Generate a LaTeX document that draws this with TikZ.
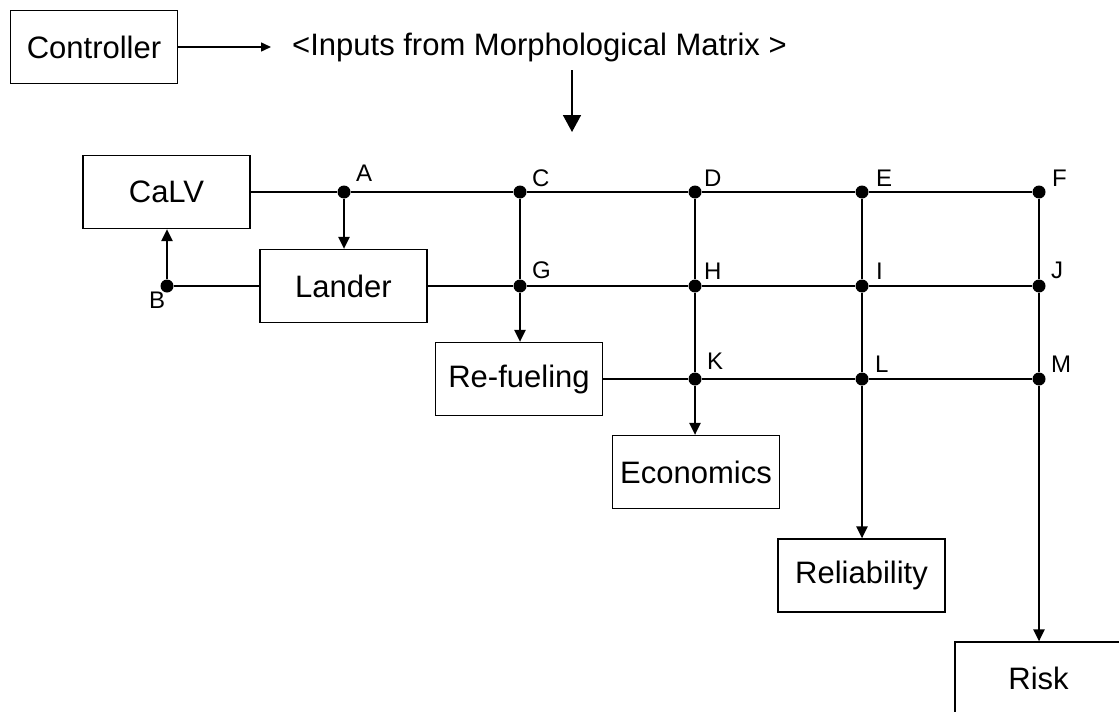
\documentclass[tikz,border=0pt]{standalone}
\usepackage{fontspec}
\setmainfont{Liberation Sans}
\usetikzlibrary{arrows.meta,calc}

\begin{document}
\begin{tikzpicture}[
  x=1pt, y=-1pt,
  block/.style={draw, line width=1.2pt, minimum width=167pt, minimum height=73pt,
                inner sep=0pt, font=\fontsize{31}{37}\selectfont},
  wire/.style={line width=2.2pt},
  arr/.style={-{Triangle[length=12pt,width=11pt]}},
  junction/.style={circle, fill, inner sep=0pt, minimum size=13pt},
  lbl/.style={inner sep=0pt, anchor=base west, font=\fontsize{24}{28}\selectfont}
]
\useasboundingbox (0,0) rectangle (1119,712);

% controller and the morphological-matrix input
\node[block] (ctrl) at (94,47) {Controller};
\node[inner sep=0pt, anchor=west, font=\fontsize{31}{37}\selectfont] (inputs) at (292,47)
  {<Inputs from Morphological Matrix >};
\draw[line width=1.5pt, -{Triangle[length=10pt,width=9pt]}]
  (ctrl.east) -- ([xshift=-21pt]inputs.west);
\coordinate (mtop) at (572,70);
\coordinate (mtip) at (572,132);
\draw[line width=1.6pt, -{Triangle[length=17pt,width=18pt]}] (mtop) -- (mtip);

% subsystem boxes
\node[block] (calv)   at (166.5,192)   {CaLV};
\node[block] (lander) at (343.5,286)   {Lander};
\node[block] (refuel) at (519,379)     {Re-fueling};
\node[block] (econ)   at (696,472)     {Economics};
\node[block] (rel)    at (861.5,575.5) {Reliability};
\node[block] (risk)   at (1038.5,678.5) {Risk};

% junction points
\node[junction] (A) at (344,192) {};
\node[junction] (C) at (520,192) {};
\node[junction] (D) at (695,192) {};
\node[junction] (E) at (862,192) {};
\node[junction] (F) at (1039,192) {};
\node[junction] (B) at (167,286) {};
\node[junction] (G) at (520,286) {};
\node[junction] (H) at (695,286) {};
\node[junction] (I) at (862,286) {};
\node[junction] (J) at (1039,286) {};
\node[junction] (K) at (695,379) {};
\node[junction] (L) at (862,379) {};
\node[junction] (M) at (1039,379) {};

% junction labels
\node[lbl] at ($(A)+(12,-11)$) {A};
\node[lbl] at ($(C)+(12,-6)$) {C};
\node[lbl] at ($(D)+(9,-6)$) {D};
\node[lbl] at ($(E)+(14,-6)$) {E};
\node[lbl] at ($(F)+(13,-6)$) {F};
\node[lbl] at ($(G)+(12,-8)$) {G};
\node[lbl] at ($(H)+(9,-7)$) {H};
\node[lbl] at ($(I)+(14,-7)$) {I};
\node[lbl] at ($(J)+(12,-8)$) {J};
\node[lbl] at ($(K)+(12,-10)$) {K};
\node[lbl] at ($(L)+(13,-7)$) {L};
\node[lbl] at ($(M)+(12,-7)$) {M};
\node[lbl] at ($(B)+(-18,22)$) {B};

% horizontal buses
\draw[wire] (calv.east) -- (A) -- (C) -- (D) -- (E) -- (F);
\draw[wire] (B) -- (lander.west);
\draw[wire] (lander.east) -- (G) -- (H) -- (I) -- (J);
\draw[wire] (refuel.east) -- (K) -- (L) -- (M);

% feedback between CaLV and Lander
\draw[wire,arr] (A) -- (A |- lander.north);
\draw[wire,arr] (B) -- (B |- calv.south);

% vertical feeds into the discipline boxes
\draw[wire] (C) -- (G);
\draw[wire,arr] (G) -- (G |- refuel.north);
\draw[wire] (D) -- (H) -- (K);
\draw[wire,arr] (K) -- (K |- econ.north);
\draw[wire] (E) -- (I) -- (L);
\draw[wire,arr] (L) -- (L |- rel.north);
\draw[wire] (F) -- (J) -- (M);
\draw[wire,arr] (M) -- (M |- risk.north);
\end{tikzpicture}
\end{document}
